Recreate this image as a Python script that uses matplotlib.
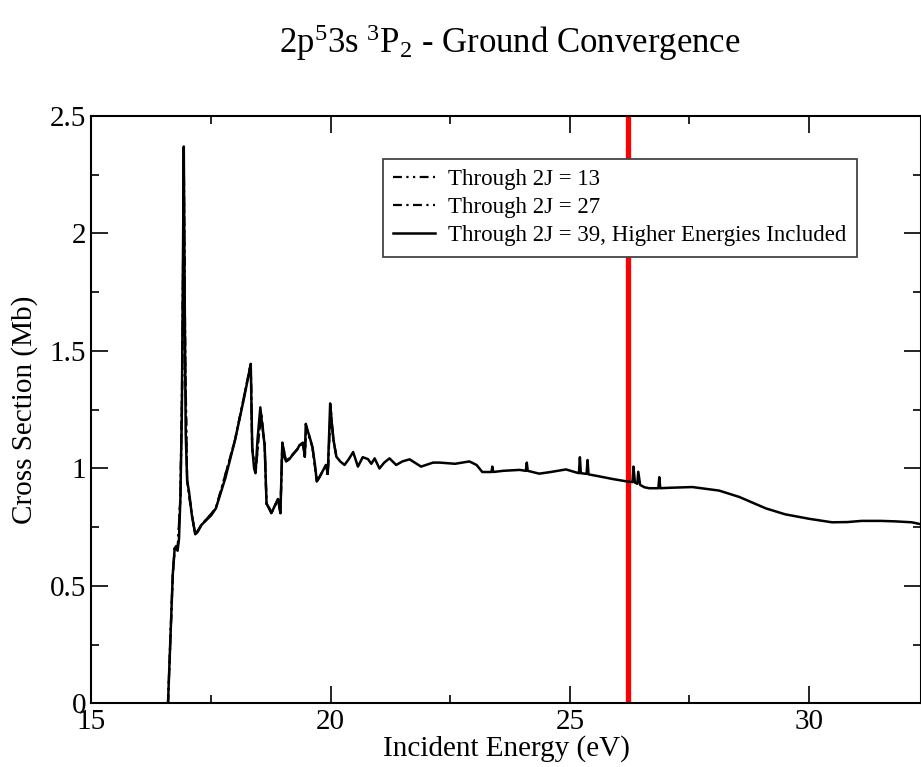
import matplotlib.pyplot as plt
from matplotlib.ticker import MultipleLocator

plt.rcParams['font.family'] = ['Liberation Serif', 'DejaVu Serif']
plt.rcParams['mathtext.fontset'] = 'custom'
plt.rcParams['mathtext.rm'] = 'Liberation Serif'
plt.rcParams['mathtext.it'] = 'Liberation Serif:italic'

# full run, through 2J = 39 with the higher energies
energy = [16.60, 16.65, 16.70, 16.74, 16.77, 16.80, 16.83, 16.86, 16.89, 16.91,
          16.93, 16.95, 16.97, 17.00, 17.04, 17.10, 17.17, 17.22, 17.30, 17.40,
          17.50, 17.60, 17.80, 18.00, 18.20, 18.33, 18.36, 18.40, 18.43, 18.47,
          18.53, 18.56, 18.59, 18.62, 18.66, 18.72, 18.76, 18.83, 18.90, 18.95,
          18.99, 19.03, 19.07, 19.14, 19.21, 19.30, 19.35, 19.42, 19.46, 19.48,
          19.52, 19.56, 19.62, 19.67, 19.71, 19.76, 19.81, 19.90, 19.94, 19.99,
          20.02, 20.06, 20.12, 20.20, 20.29, 20.38, 20.47, 20.57, 20.67, 20.78,
          20.85, 20.92, 21.02, 21.12, 21.23, 21.37, 21.50, 21.65, 21.89, 22.14,
          22.28, 22.60, 22.90, 23.05, 23.17, 23.36, 23.38, 23.40, 23.60, 23.95,
          24.08, 24.10, 24.12, 24.36, 24.60, 24.92, 25.10, 25.19, 25.21, 25.23,
          25.35, 25.37, 25.39, 25.60, 25.90, 26.22, 26.31, 26.33, 26.36, 26.41,
          26.43, 26.47, 26.56, 26.66, 26.85, 26.87, 26.89, 27.10, 27.56, 28.12,
          28.54, 29.10, 29.50, 30.00, 30.48, 30.80, 31.10, 31.50, 31.80, 32.15,
          32.40]
cs_39 = [0.0, 0.28, 0.55, 0.66, 0.67, 0.65, 0.70, 0.88, 1.25, 1.80,
         2.37, 1.70, 1.15, 0.95, 0.90, 0.80, 0.72, 0.73, 0.76, 0.78,
         0.80, 0.83, 0.96, 1.12, 1.31, 1.445, 1.09, 1.00, 0.98, 1.12,
         1.26, 1.20, 1.15, 1.10, 0.85, 0.83, 0.81, 0.84, 0.87, 0.81,
         1.11, 1.05, 1.03, 1.04, 1.06, 1.08, 1.10, 1.11, 1.05, 1.19,
         1.16, 1.135, 1.09, 1.02, 0.945, 0.96, 0.98, 1.015, 0.977, 1.277,
         1.20, 1.12, 1.05, 1.03, 1.015, 1.04, 1.07, 1.008, 1.048, 1.04,
         1.02, 1.043, 1.00, 1.025, 1.043, 1.015, 1.03, 1.039, 1.008, 1.025,
         1.025, 1.02, 1.03, 1.015, 0.985, 0.985, 1.008, 0.985, 0.99, 0.994,
         0.99, 1.025, 0.99, 0.978, 0.985, 0.996, 0.985, 0.98, 1.048, 0.98,
         0.977, 1.036, 0.975, 0.967, 0.955, 0.944, 0.942, 1.008, 0.94, 0.935,
         0.986, 0.93, 0.92, 0.916, 0.916, 0.963, 0.916, 0.918, 0.921, 0.906,
         0.879, 0.83, 0.805, 0.786, 0.771, 0.772, 0.777, 0.777, 0.775, 0.771,
         0.76]

# lower partial-wave runs (only differ in the resonance region)
energy_low = [16.60, 16.70, 16.74, 16.80, 16.86, 16.90, 16.93, 16.96, 17.00, 17.10,
              17.17, 17.30, 17.60, 18.00, 18.33, 18.36, 18.43, 18.50, 18.55, 18.62,
              18.66, 18.76, 18.90, 18.95, 18.99, 19.07, 19.21, 19.42, 19.46, 19.49,
              19.62, 19.71, 19.81, 19.94, 20.00, 20.06, 20.12]
cs_13 = [0.0, 0.55, 0.66, 0.65, 0.88, 1.40, 2.30, 1.45, 0.95, 0.80,
         0.72, 0.76, 0.83, 1.12, 1.445, 1.09, 0.98, 1.15, 1.22, 1.10,
         0.85, 0.81, 0.87, 0.81, 1.11, 1.03, 1.06, 1.11, 1.05, 1.17,
         1.09, 0.945, 0.98, 0.977, 1.25, 1.12, 1.05]
cs_27 = [0.0, 0.55, 0.66, 0.65, 0.88, 1.45, 2.34, 1.50, 0.95, 0.80,
         0.72, 0.76, 0.83, 1.12, 1.445, 1.09, 0.98, 1.14, 1.24, 1.10,
         0.85, 0.81, 0.87, 0.81, 1.11, 1.03, 1.06, 1.11, 1.05, 1.18,
         1.09, 0.945, 0.98, 0.977, 1.26, 1.12, 1.05]

threshold = 26.22

fig = plt.figure(figsize=(9.21, 7.67), dpi=100)
ax = fig.add_axes([0.0993, 0.0828, 0.9012, 0.766])

ax.plot(energy_low, cs_13, color='black', lw=1.6, ls=(0, (4, 2, 1, 2, 1, 2)),
        label='Through 2J = 13')
ax.plot(energy_low, cs_27, color='black', lw=1.6, ls=(0, (4, 2, 1, 2)),
        label='Through 2J = 27')
ax.plot(energy, cs_39, color='black', lw=1.8,
        label='Through 2J = 39, Higher Energies Included')
ax.axvline(threshold, color='red', lw=3.8, zorder=1)

ax.set_xlim(15, 32.35)
ax.set_ylim(0, 2.5)
ax.xaxis.set_major_locator(MultipleLocator(5))
ax.xaxis.set_minor_locator(MultipleLocator(2.5))
ax.yaxis.set_major_locator(MultipleLocator(0.5))
ax.yaxis.set_minor_locator(MultipleLocator(0.25))
ax.set_yticks([0, 0.5, 1, 1.5, 2, 2.5], ['0', '0.5', '1', '1.5', '2', '2.5'])
ax.tick_params(which='both', direction='in', top=True, right=True,
               labelsize=21, width=1.2)
ax.tick_params(which='major', length=12, pad=4)
ax.tick_params(axis='x', which='major', pad=4)
ax.tick_params(which='minor', length=6)
for s in ax.spines.values():
    s.set_linewidth(1.5)

ax.set_xlabel('Incident Energy (eV)', fontsize=21, labelpad=0)
ax.set_ylabel('Cross Section (Mb)', fontsize=21, labelpad=8)
fig.text(0.554, 0.945, r'2p$^{5}$3s $^{3}$P$_{2}$ - Ground Convergence',
         fontsize=25, ha='center', va='center')

leg = fig.legend(loc='upper left', bbox_to_anchor=(383 / 921, 1 - 159 / 767),
                 fontsize=16.5, frameon=True, fancybox=False, framealpha=1,
                 edgecolor='#444444', handlelength=1.8, labelspacing=0.3,
                 borderpad=0.45, handletextpad=0.6, borderaxespad=0)
leg.get_frame().set_linewidth(1.3)

plt.savefig('out.png', dpi=100)
